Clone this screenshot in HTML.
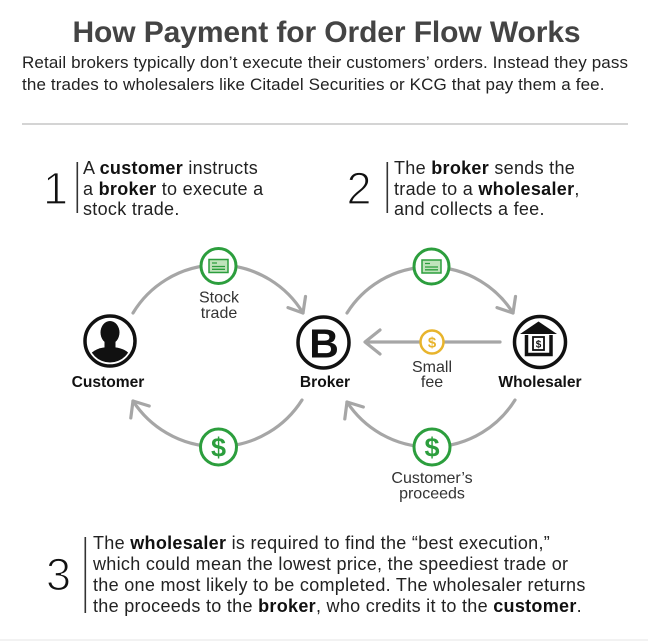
<!DOCTYPE html>
<html><head><meta charset="utf-8"><style>
html,body{margin:0;padding:0;background:#fff;}
body{width:648px;height:641px;overflow:hidden;position:relative;font-family:"Liberation Sans",Arial,sans-serif;}
.a{position:absolute;white-space:nowrap;}
#title{left:0;width:653px;text-align:center;top:17.6px;font-size:30px;line-height:30px;font-weight:bold;color:#444;letter-spacing:-0.1px;}
#sub{left:22px;top:51.9px;font-size:17px;line-height:22.5px;color:#222;letter-spacing:0.13px;}
.st{font-size:18px;line-height:20.5px;color:#222;letter-spacing:0.3px;}
.st b{color:#111;}
svg{position:absolute;left:0;top:0;}
</style></head><body>
<svg width="648" height="641" viewBox="0 0 648 641" xmlns="http://www.w3.org/2000/svg">
  <defs>
    <clipPath id="cc"><circle cx="110" cy="341" r="21.5"/></clipPath>
  </defs>
  <rect x="22" y="123" width="606" height="2" fill="#d4d4d4"/>
  <rect x="0" y="639" width="648" height="2" fill="#f2f2f2"/>
  <rect x="76.5" y="162" width="1.6" height="51" fill="#333"/>
  <rect x="386.5" y="162" width="1.6" height="51" fill="#333"/>
  <rect x="84.5" y="537" width="1.6" height="76" fill="#333"/>
  <g font-family="Liberation Sans, Arial, sans-serif" font-size="45" fill="#111" stroke="#fff" stroke-width="1.3">
    <text x="43" y="204">1</text>
    <text x="346.5" y="204">2</text>
    <text x="46" y="590">3</text>
  </g>
  <g fill="none" stroke="#a6a6a6" stroke-width="3.2" stroke-linecap="round" stroke-linejoin="round">
    <path d="M133,313 A99.3,99.3 0 0 1 303,313"/>
    <path d="M288,307.6 L303,313 L305.5,296.5"/>
    <path d="M347,313 A97.9,97.9 0 0 1 513,313"/>
    <path d="M497,307.6 L513,313 L515.5,296.5"/>
    <path d="M302,400 A100.4,100.4 0 0 1 133,401"/>
    <path d="M130.8,417.9 L133,401 L149.2,406"/>
    <path d="M515,400 A99.7,99.7 0 0 1 347,402"/>
    <path d="M344.8,418.9 L347,402 L363.3,407"/>
    <path d="M500,342 L366,342"/>
    <path d="M380,330 L365,342 L380,354"/>
  </g>
  <g>
    <circle cx="218.5" cy="266" r="17.5" fill="#fff" stroke="#2c9e3d" stroke-width="3"/>
    <rect x="209" y="259.5" width="19" height="13" fill="#bfe3bb" stroke="#2c9e3d" stroke-width="1.5"/>
    <path d="M212,263 H217 M212,266.5 H225 M212,269.3 H225" stroke="#2c9e3d" stroke-width="1.3"/>
    <circle cx="431.5" cy="266.5" r="17.5" fill="#fff" stroke="#2c9e3d" stroke-width="3"/>
    <rect x="422" y="260" width="19" height="13" fill="#bfe3bb" stroke="#2c9e3d" stroke-width="1.5"/>
    <path d="M425,263.5 H430 M425,267 H438 M425,269.8 H438" stroke="#2c9e3d" stroke-width="1.3"/>
  </g>
  <g font-family="Liberation Sans, Arial, sans-serif" font-weight="bold" text-anchor="middle">
    <circle cx="218.5" cy="447" r="18" fill="#fff" stroke="#2c9e3d" stroke-width="3"/>
    <text x="218.5" y="456.5" font-size="27" fill="#2c9e3d">$</text>
    <circle cx="432" cy="447" r="18" fill="#fff" stroke="#2c9e3d" stroke-width="3"/>
    <text x="432" y="456.5" font-size="27" fill="#2c9e3d">$</text>
    <circle cx="432" cy="342" r="11.5" fill="#fff" stroke="#e8b42c" stroke-width="2.5"/>
    <text x="432" y="347.3" font-size="15" fill="#e8b42c">$</text>
  </g>
  <circle cx="110" cy="341" r="25" fill="#fff" stroke="#111" stroke-width="3.5"/>
  <g clip-path="url(#cc)" fill="#111">
    <ellipse cx="110" cy="332.5" rx="9.5" ry="11.5"/>
    <rect x="104.5" y="340" width="11" height="10"/>
    <path d="M86,368 C86,353 96,347 110,347 C124,347 134,353 134,368 Z"/>
  </g>
  <circle cx="323.5" cy="342.5" r="25.5" fill="#fff" stroke="#111" stroke-width="3.5"/>
  <text x="324" y="357.5" font-family="Liberation Sans, Arial, sans-serif" font-weight="bold" font-size="41" fill="#111" text-anchor="middle">B</text>
  <circle cx="540" cy="342" r="25.5" fill="#fff" stroke="#111" stroke-width="3.5"/>
  <polygon points="520,334 538.5,321.5 557,334" fill="#111"/>
  <path d="M526.5,335 V354.5 H551 V335" fill="none" stroke="#111" stroke-width="3.5"/>
  <rect x="533" y="337" width="11" height="13" fill="#fff" stroke="#111" stroke-width="1.8"/>
  <text x="538.5" y="347.3" font-family="Liberation Sans, Arial, sans-serif" font-weight="bold" font-size="10" fill="#111" text-anchor="middle">$</text>
  <g font-family="Liberation Sans, Arial, sans-serif" text-anchor="middle">
    <g font-weight="bold" font-size="15.6" fill="#111">
      <text x="108" y="387">Customer</text>
      <text x="325" y="387">Broker</text>
      <text x="540" y="387">Wholesaler</text>
    </g>
    <g font-size="16" fill="#333">
      <text x="219" y="302.7">Stock</text>
      <text x="219" y="318">trade</text>
      <text x="432" y="372">Small</text>
      <text x="432" y="387">fee</text>
      <text x="432" y="483">Customer’s</text>
      <text x="432" y="498.5">proceeds</text>
    </g>
  </g>
</svg>
<div class="a" id="title">How Payment for Order Flow Works</div>
<div class="a" id="sub">Retail brokers typically don’t execute their customers’ orders. Instead they pass<br>the trades to wholesalers like Citadel Securities or KCG that pay them a fee.</div>
<div class="a st" style="left:83px;top:158px;">A <b>customer</b> instructs<br>a <b>broker</b> to execute a<br>stock trade.</div>
<div class="a st" style="left:394px;top:158px;">The <b>broker</b> sends the<br>trade to a <b>wholesaler</b>,<br>and collects a fee.</div>
<div class="a st" style="left:93px;top:533.4px;line-height:20.8px;">The <b>wholesaler</b> is required to find the “best execution,”<br>which could mean the lowest price, the speediest trade or<br>the one most likely to be completed. The wholesaler returns<br>the proceeds to the <b>broker</b>, who credits it to the <b>customer</b>.</div>
</body></html>
